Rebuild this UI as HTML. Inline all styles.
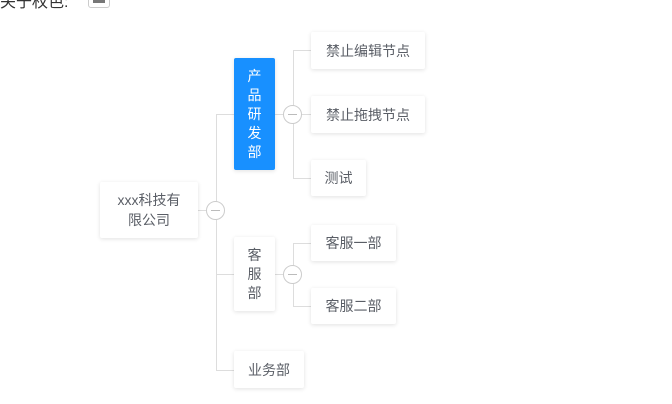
<!DOCTYPE html><html><head><meta charset="utf-8"><style>
body{margin:0;width:672px;height:404px;background:#fff;position:relative;overflow:hidden;font-family:"Liberation Sans","Noto Sans CJK SC",sans-serif;}
.n{position:absolute;background:#fff;box-shadow:0 1px 4px rgba(0,0,0,.12);color:#5a5e66;font-size:14px;display:flex;align-items:center;justify-content:center;text-align:center;line-height:20px;border-radius:2px}
.l{position:absolute;background:#ddd}
.c{position:absolute;width:19px;height:19px;border:1px solid #ccc;border-radius:50%;background:#fff;box-sizing:border-box}
.c:after{content:"";position:absolute;left:4px;right:4px;top:8px;height:1px;background:#bbb}
</style></head><body>
<div style="position:absolute;left:0;top:-12px;font-size:16px;color:#333">关于权色:</div>
<div style="position:absolute;left:88px;top:-8px;width:20px;height:14px;border:1px solid #ccc;border-radius:3px"><div style="margin:6px 4px;height:4px;background:#777"></div></div>
<div class="l" style="left:198px;top:210px;width:18px;height:1px"></div>
<div class="l" style="left:216px;top:114px;width:1px;height:256px"></div>
<div class="l" style="left:216px;top:114px;width:18px;height:1px"></div>
<div class="l" style="left:216px;top:274px;width:18px;height:1px"></div>
<div class="l" style="left:216px;top:370px;width:18px;height:1px"></div>
<div class="l" style="left:275px;top:114px;width:18px;height:1px"></div>
<div class="l" style="left:293px;top:50px;width:1px;height:128px"></div>
<div class="l" style="left:293px;top:50px;width:18px;height:1px"></div>
<div class="l" style="left:293px;top:114px;width:18px;height:1px"></div>
<div class="l" style="left:293px;top:178px;width:18px;height:1px"></div>
<div class="l" style="left:275px;top:274px;width:18px;height:1px"></div>
<div class="l" style="left:293px;top:243px;width:1px;height:63px"></div>
<div class="l" style="left:293px;top:243px;width:18px;height:1px"></div>
<div class="l" style="left:293px;top:306px;width:18px;height:1px"></div>
<div class="n" style="left:100px;top:182px;width:98px;height:56px">xxx科技有<br>限公司</div>
<div class="n" style="left:234px;top:58px;width:41px;height:112px;background:#1890ff;color:#fff;line-height:19px">产<br>品<br>研<br>发<br>部</div>
<div class="n" style="left:311px;top:32px;width:114px;height:37px">禁止编辑节点</div>
<div class="n" style="left:311px;top:96px;width:114px;height:37px">禁止拖拽节点</div>
<div class="n" style="left:311px;top:160px;width:55px;height:36px">测试</div>
<div class="n" style="left:234px;top:237px;width:41px;height:74px;line-height:19px">客<br>服<br>部</div>
<div class="n" style="left:311px;top:225px;width:85px;height:36px">客服一部</div>
<div class="n" style="left:311px;top:288px;width:85px;height:36px">客服二部</div>
<div class="n" style="left:234px;top:351px;width:70px;height:37px">业务部</div>
<div class="c" style="left:206px;top:201px"></div>
<div class="c" style="left:283px;top:105px"></div>
<div class="c" style="left:283px;top:265px"></div>
</body></html>
